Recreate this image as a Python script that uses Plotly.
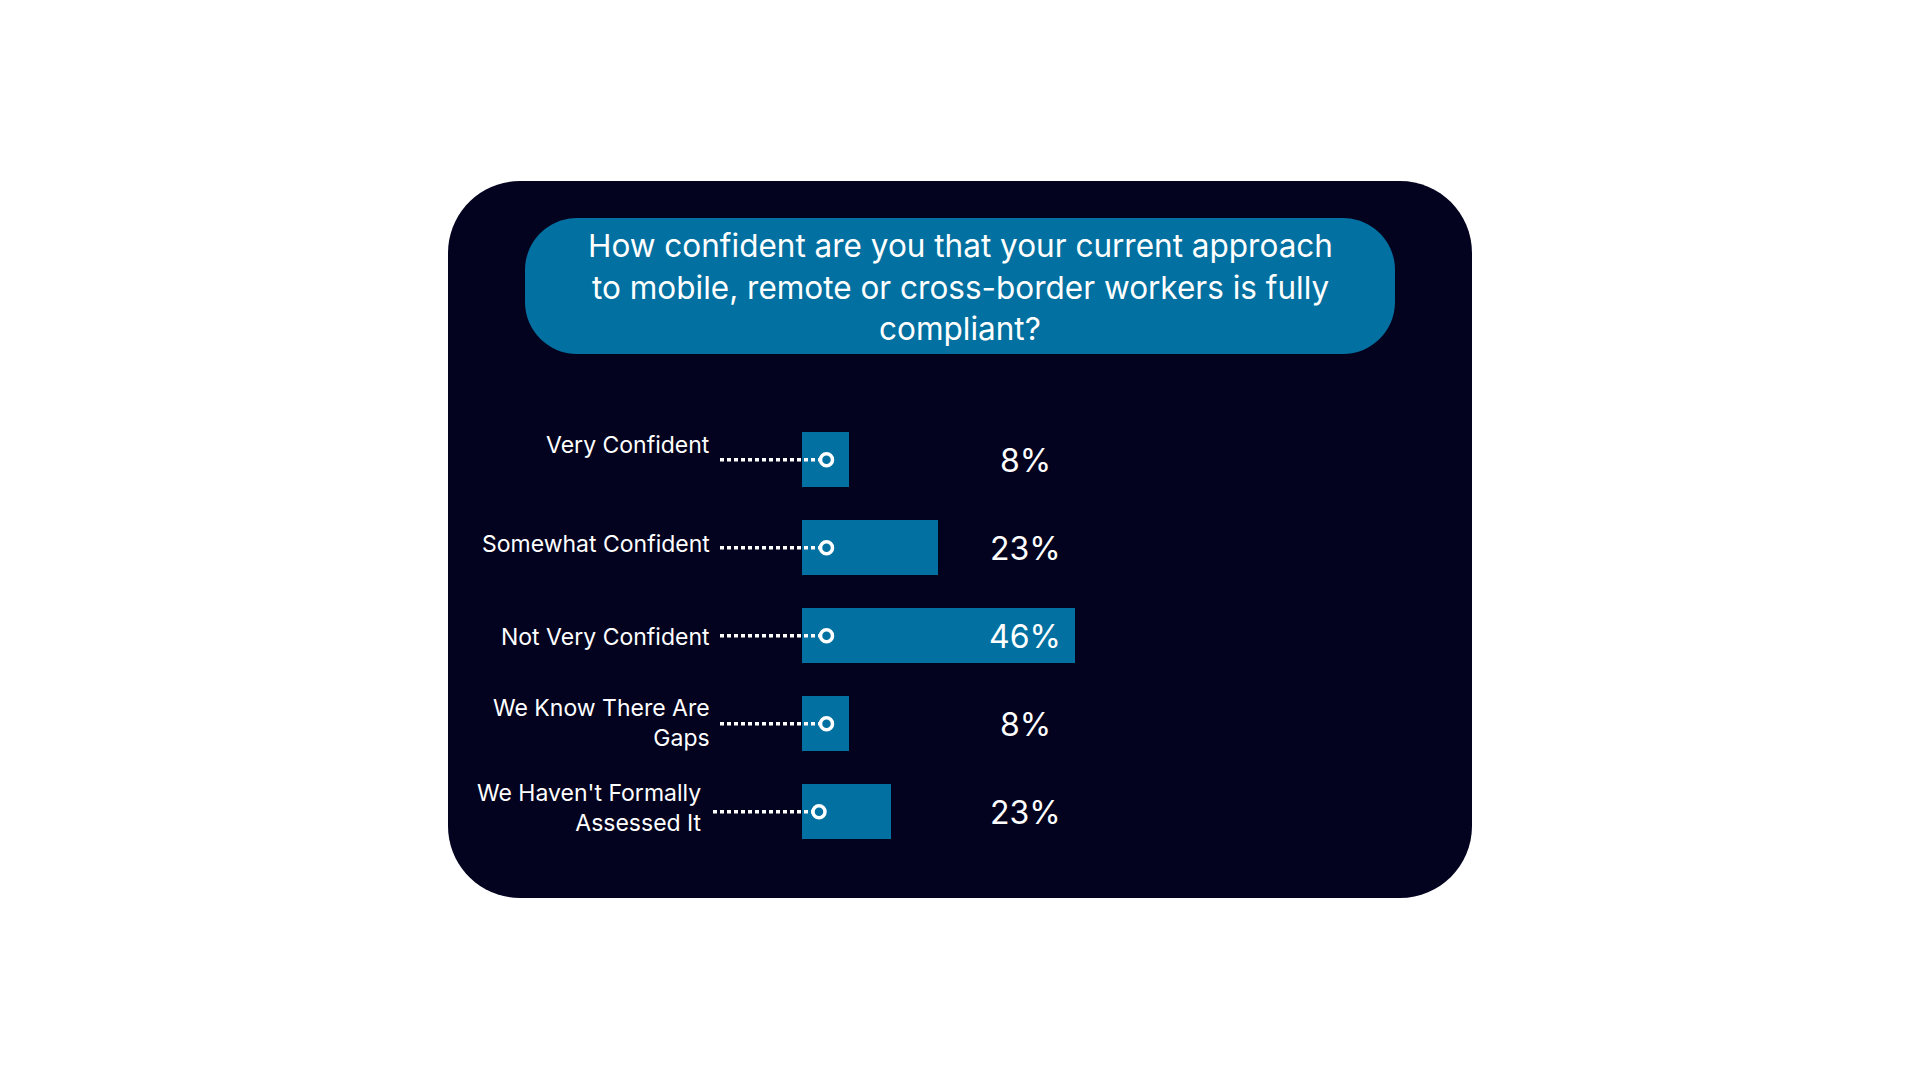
import plotly.graph_objects as go

# ---- data ----
categories = ["Very Confident", "Somewhat Confident", "Not Very Confident",
              "We Know There Are Gaps", "We Haven't Formally Assessed It"]
category_labels = ["Very Confident", "Somewhat Confident", "Not Very Confident",
                   "We Know There Are<br>Gaps", "We Haven't Formally<br>Assessed It"]
bar_values = [8, 23, 46, 8, 15]
value_labels = ["8%", "23%", "46%", "8%", "23%"]
title_lines = ["How confident are you that your current approach",
               "to mobile, remote or cross-border workers is fully",
               "compliant?"]

# ---- style / layout constants ----
W, H = 1920, 1080
FONT = "Inter"
BG = "#03031f"
BLUE = "#0270a0"
X0_PX = 802          # pixel position of value 0
SCALE = 5.93         # pixels per percent
ROW0_PX = 459.8      # pixel y of first row centre
ROW_STEP = 88.0      # pixel distance between rows

def px(x):
    return x / W

def py(y):
    return 1 - y / H

def dx(xpix):
    return (xpix - X0_PX) / SCALE

def rounded_path(x0, y0, x1, y1, r):
    k = 0.5523 * r
    def P(x, y):
        return f"{px(x):.5f},{py(y):.5f}"
    d = f"M {P(x0 + r, y0)} L {P(x1 - r, y0)} "
    d += f"C {P(x1 - r + k, y0)} {P(x1, y0 + r - k)} {P(x1, y0 + r)} "
    d += f"L {P(x1, y1 - r)} "
    d += f"C {P(x1, y1 - r + k)} {P(x1 - r + k, y1)} {P(x1 - r, y1)} "
    d += f"L {P(x0 + r, y1)} "
    d += f"C {P(x0 + r - k, y1)} {P(x0, y1 - r + k)} {P(x0, y1 - r)} "
    d += f"L {P(x0, y0 + r)} "
    d += f"C {P(x0, y0 + r - k)} {P(x0 + r - k, y0)} {P(x0 + r, y0)} Z"
    return d

fig = go.Figure()

fig.add_trace(go.Bar(
    x=bar_values, y=categories, orientation="h", width=0.625,
    marker=dict(color=BLUE, line=dict(width=0)),
    hoverinfo="skip", showlegend=False,
))

# connectors: dotted line + ring marker
conn_start = [720, 720, 720, 720, 713]
conn_end = [826.5, 826.5, 826.5, 826.5, 819]
for i, cat in enumerate(categories):
    fig.add_trace(go.Scatter(
        x=[dx(conn_start[i]), dx(conn_end[i])], y=[cat, cat],
        mode="lines", line=dict(color="white", width=3.5, dash="4px,3px"),
        hoverinfo="skip", showlegend=False,
    ))
    fig.add_trace(go.Scatter(
        x=[dx(conn_end[i])], y=[cat], mode="markers",
        marker=dict(symbol="circle", size=12, color=BLUE,
                    line=dict(color="white", width=3.5)),
        hoverinfo="skip", showlegend=False,
    ))

annotations = []
# value labels
label_x_px = 1025
for i, cat in enumerate(categories):
    annotations.append(dict(
        x=px(label_x_px), xref="paper", xanchor="center",
        y=cat, yref="y", yanchor="middle", yshift=-0.5,
        text=value_labels[i], showarrow=False,
        font=dict(family=FONT, size=32, color="white"),
    ))

label_right = [711.5, 711.5, 711.5, 711.5, 704]
label_shift = [15, 4, -1, 1, 4]
for i, cat in enumerate(categories):
    annotations.append(dict(
        x=px(label_right[i]), xref="paper", xanchor="right",
        y=cat, yref="y", yanchor="middle", yshift=label_shift[i],
        text=category_labels[i], showarrow=False, align="right",
        font=dict(family=FONT, size=23, color="white"),
    ))
title_y = [245, 287, 328]
for line, yy in zip(title_lines, title_y):
    annotations.append(dict(
        x=px(960), y=py(yy), xref="paper", yref="paper",
        xanchor="center", yanchor="middle", text=line, showarrow=False,
        font=dict(family=FONT, size=31.5, color="white"),
    ))

shapes = [
    dict(type="path", xref="paper", yref="paper", layer="below",
         path=rounded_path(448, 181, 1472, 898, 72),
         fillcolor=BG, line=dict(width=0)),
    dict(type="path", xref="paper", yref="paper", layer="below",
         path=rounded_path(525, 218, 1395, 354, 52),
         fillcolor=BLUE, line=dict(width=0)),
]

fig.update_layout(
    width=W, height=H, margin=dict(l=0, r=0, t=0, b=0),
    paper_bgcolor="white", plot_bgcolor="rgba(0,0,0,0)",
    xaxis=dict(range=[dx(0), dx(W)], visible=False, fixedrange=True),
    yaxis=dict(type="category", categoryorder="array", categoryarray=categories,
               range=[(H - ROW0_PX) / ROW_STEP, -ROW0_PX / ROW_STEP],
               visible=False, fixedrange=True),
    shapes=shapes, annotations=annotations, bargap=0,
    font=dict(family=FONT),
)

fig.write_html("out.html", config={"displayModeBar": False})
